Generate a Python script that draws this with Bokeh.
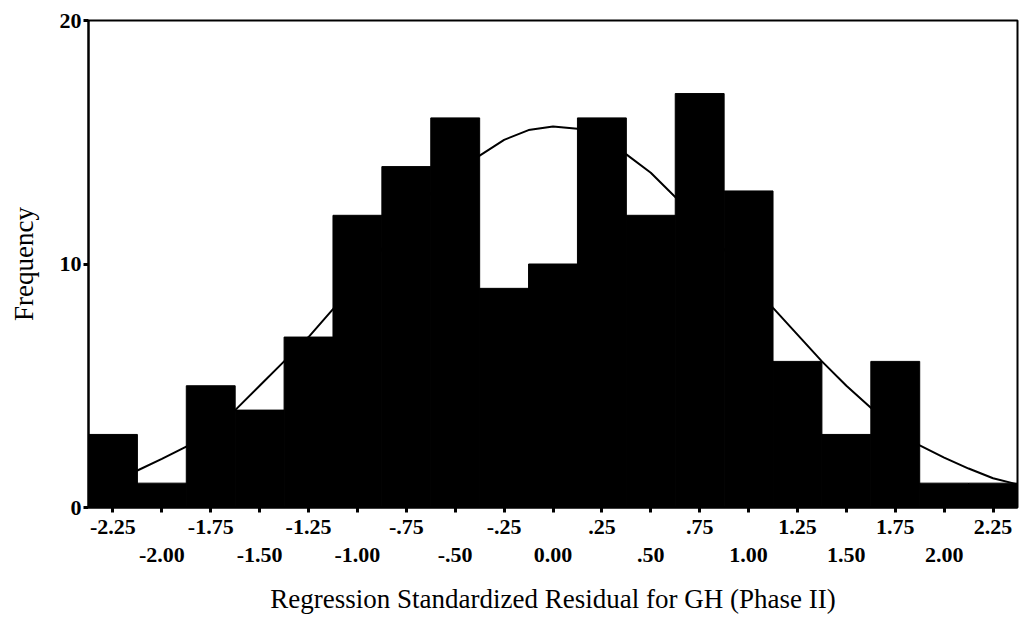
from bokeh.plotting import figure
from bokeh.models import Range1d, FixedTicker
from bokeh.embed import file_html
from bokeh.resources import INLINE

# Histogram of standardized residuals (bin width 0.25)
bin_centers = [-2.25, -2.00, -1.75, -1.50, -1.25, -1.00, -0.75, -0.50, -0.25, 0.00,
               0.25, 0.50, 0.75, 1.00, 1.25, 1.50, 1.75, 2.00, 2.25]
frequencies = [3, 1, 5, 4, 7, 12, 14, 16, 9, 10, 16, 12, 17, 13, 6, 3, 6, 1, 1]
tick_labels = ["-2.25", "-2.00", "-1.75", "-1.50", "-1.25", "-1.00", "-.75", "-.50", "-.25",
               "0.00", ".25", ".50", ".75", "1.00", "1.25", "1.50", "1.75", "2.00", "2.25"]
bin_width = 0.25

# Normal curve overlay, sampled every 0.125
curve_x = [-2.375, -2.25, -2.125, -2.0, -1.875, -1.75, -1.625, -1.5, -1.375, -1.25,
           -1.125, -1.0, -0.875, -0.75, -0.625, -0.5, -0.375, -0.25, -0.125, 0.0,
           0.125, 0.25, 0.375, 0.5, 0.625, 0.75, 0.875, 1.0, 1.125, 1.25,
           1.375, 1.5, 1.625, 1.75, 1.875, 2.0, 2.125, 2.25, 2.375]
curve_y = [0.95, 1.25, 1.52, 2.0, 2.5, 3.3, 4.0, 5.0, 6.0, 7.0,
           8.15, 9.4, 10.6, 11.8, 12.9, 13.8, 14.45, 15.1, 15.5, 15.65,
           15.55, 15.1, 14.5, 13.75, 12.75, 11.75, 10.6, 9.4, 8.2, 7.1,
           6.0, 5.0, 4.1, 3.3, 2.55, 2.05, 1.6, 1.2, 0.95]
y_ticks = [0, 10, 20]

FONT = "Liberation Serif"

p = figure(width=1021, height=627, output_backend="svg", toolbar_location=None,
           x_range=Range1d(-2.375, 2.375), y_range=Range1d(0, 20))
p.min_border_left = 88
p.min_border_right = 4
p.min_border_top = 20
p.min_border_bottom = 120
p.background_fill_color = "white"
p.border_fill_color = "white"
p.outline_line_color = "black"
p.outline_line_width = 2
p.grid.visible = False

p.vbar(x=bin_centers, top=frequencies, bottom=0, width=bin_width,
       fill_color="black", line_color="black", line_width=1)
p.line(curve_x, curve_y, line_color="black", line_width=2)

# x axis: labels alternate between two rows
xa = p.xaxis[0]
xa.ticker = FixedTicker(ticks=bin_centers)
xa.major_label_overrides = {
    c: (lab if i % 2 == 0 else "\n" + lab)
    for i, (c, lab) in enumerate(zip(bin_centers, tick_labels))
}
xa.minor_tick_line_color = None
xa.major_tick_in = 0
xa.major_tick_out = 5
xa.major_tick_line_width = 3
xa.major_tick_line_color = "black"
xa.axis_line_width = 2
xa.axis_line_color = "black"
xa.major_label_text_font = FONT
xa.major_label_text_font_size = "22px"
xa.major_label_text_font_style = "bold"
xa.major_label_text_color = "black"
xa.major_label_text_line_height = 1.15
xa.major_label_standoff = 1
xa.axis_label = "Regression Standardized Residual for GH (Phase II)"
xa.axis_label_text_font = FONT
xa.axis_label_text_font_size = "27px"
xa.axis_label_text_font_style = "normal"
xa.axis_label_text_color = "black"
xa.axis_label_standoff = 14

ya = p.yaxis[0]
ya.ticker = FixedTicker(ticks=y_ticks)
ya.minor_tick_line_color = None
ya.major_tick_in = 0
ya.major_tick_out = 5
ya.major_tick_line_width = 3
ya.major_tick_line_color = "black"
ya.axis_line_width = 2
ya.axis_line_color = "black"
ya.major_label_text_font = FONT
ya.major_label_text_font_size = "22px"
ya.major_label_text_font_style = "bold"
ya.major_label_text_color = "black"
ya.major_label_standoff = 2
ya.axis_label = "Frequency"
ya.axis_label_text_font = FONT
ya.axis_label_text_font_size = "27px"
ya.axis_label_text_font_style = "normal"
ya.axis_label_text_color = "black"
ya.axis_label_standoff = 18

open("out.html", "w").write(file_html(p, INLINE))
